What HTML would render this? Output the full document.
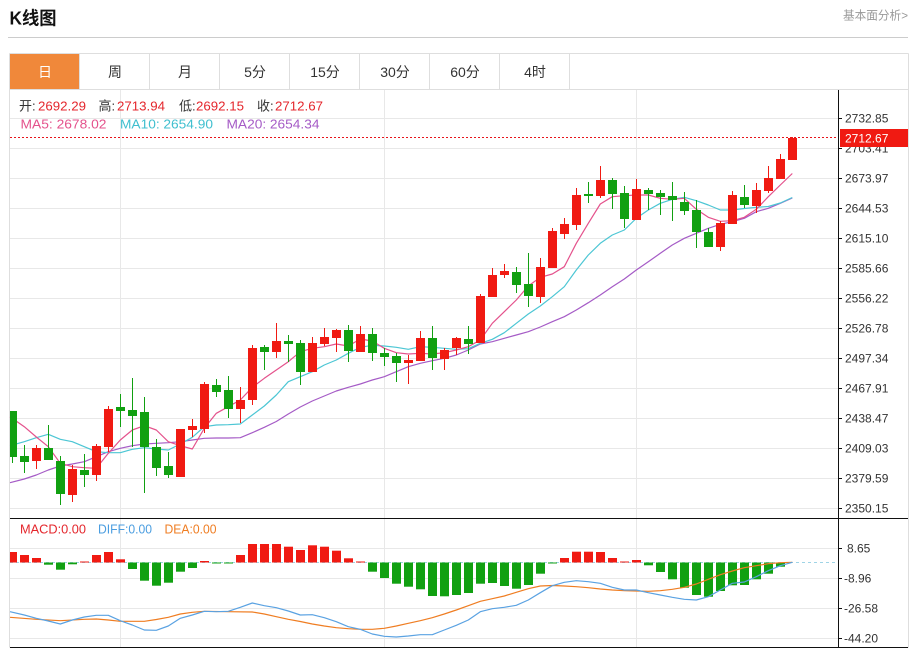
<!DOCTYPE html>
<html><head><meta charset="utf-8"><style>
html,body{margin:0;padding:0;background:#fff;}
body{width:912px;height:651px;overflow:hidden;position:relative;}
svg{position:absolute;left:0;top:0;}
text{font-family:"Liberation Sans","Noto Sans CJK SC",sans-serif;}
</style></head><body>
<svg width="912" height="651" viewBox="0 0 912 651" xmlns="http://www.w3.org/2000/svg">
<rect width="912" height="651" fill="#fff"/>
<!-- header -->
<text x="9.5" y="24.5" font-size="18" font-weight="bold" fill="#111" textLength="47" lengthAdjust="spacingAndGlyphs">K线图</text>
<text x="843" y="19.5" font-size="12" fill="#999" textLength="65" lengthAdjust="spacingAndGlyphs">基本面分析&gt;</text>
<line x1="8" y1="37.5" x2="908" y2="37.5" stroke="#ccc" stroke-width="1"/>
<!-- tabs -->
<rect x="10" y="54" width="69.5" height="35" fill="#f0883a"/>
<g stroke="#dedede" stroke-width="1" fill="none">
<path d="M9.5 53.5H908.5M9.5 89.5H908.5M9.5 53.5V647.5M908.5 53.5V647.5"/>
<path d="M79.5 53.5V89.5M149.5 53.5V89.5M219.5 53.5V89.5M289.5 53.5V89.5M359.5 53.5V89.5M429.5 53.5V89.5M499.5 53.5V89.5M569.5 53.5V89.5"/>
</g>
<g font-size="14" text-anchor="middle" fill="#333">
<text x="45" y="77" fill="#fff">日</text>
<text x="115" y="77">周</text>
<text x="185" y="77">月</text>
<text x="255" y="77">5分</text>
<text x="325" y="77">15分</text>
<text x="395" y="77">30分</text>
<text x="465" y="77">60分</text>
<text x="535" y="77">4时</text>
</g>
<!-- grid -->
<g stroke="#e8e8e8" stroke-width="1">
<path d="M10 118.5H838M10 148.5H838M10 178.5H838M10 208.5H838M10 238.5H838M10 268.5H838M10 298.5H838M10 328.5H838M10 358.5H838M10 388.5H838M10 418.5H838M10 448.5H838M10 478.5H838M10 508.5H838"/>
<path d="M10 548.5H838M10 578.5H838M10 608.5H838M10 638.5H838"/>
<path d="M120.5 90V647M384.5 90V647M636.5 90V647"/>
</g>
<!-- axis -->
<g stroke="#111" stroke-width="1">
<path d="M838.5 90V648"/>
<path d="M10 518.5H908M10 647.5H908"/>
<path d="M838 118.5H842M838 148.5H842M838 178.5H842M838 208.5H842M838 238.5H842M838 268.5H842M838 298.5H842M838 328.5H842M838 358.5H842M838 388.5H842M838 418.5H842M838 448.5H842M838 478.5H842M838 508.5H842"/>
<path d="M838 548.5H842M838 578.5H842M838 608.5H842M838 638.5H842"/>
</g>
<g font-size="12" fill="#333">
<text x="845" y="122.5">2732.85</text>
<text x="845" y="152.5">2703.41</text>
<text x="845" y="182.5">2673.97</text>
<text x="845" y="212.5">2644.53</text>
<text x="845" y="242.5">2615.10</text>
<text x="845" y="272.5">2585.66</text>
<text x="845" y="302.5">2556.22</text>
<text x="845" y="332.5">2526.78</text>
<text x="845" y="362.5">2497.34</text>
<text x="845" y="392.5">2467.91</text>
<text x="845" y="422.5">2438.47</text>
<text x="845" y="452.5">2409.03</text>
<text x="845" y="482.5">2379.59</text>
<text x="845" y="512.5">2350.15</text>
<text x="847" y="552.5">8.65</text>
<text x="844" y="582.5">-8.96</text>
<text x="844" y="612.5">-26.58</text>
<text x="844" y="642.5">-44.20</text>
</g>
<!-- current price -->
<line x1="10" y1="137.5" x2="838" y2="137.5" stroke="#e8141a" stroke-width="1" stroke-dasharray="2,2"/>
<rect x="840" y="129" width="68" height="18" fill="#f01a12"/>
<text x="845" y="142.5" font-size="12" fill="#fff">2712.67</text>
<!-- legend -->
<g font-size="13">
<text x="19" y="110.5" fill="#333">开:</text>
<text x="38" y="110.5" fill="#e4262c" textLength="48" lengthAdjust="spacingAndGlyphs">2692.29</text>
<text x="98.5" y="110.5" fill="#333">高:</text>
<text x="117" y="110.5" fill="#e4262c" textLength="48" lengthAdjust="spacingAndGlyphs">2713.94</text>
<text x="179" y="110.5" fill="#333">低:</text>
<text x="196" y="110.5" fill="#e4262c" textLength="48" lengthAdjust="spacingAndGlyphs">2692.15</text>
<text x="257" y="110.5" fill="#333">收:</text>
<text x="275" y="110.5" fill="#e4262c" textLength="48" lengthAdjust="spacingAndGlyphs">2712.67</text>
<text x="20.5" y="128.5" fill="#e4528c" textLength="86" lengthAdjust="spacingAndGlyphs">MA5: 2678.02</text>
<text x="120" y="128.5" fill="#3fbfcf" textLength="93" lengthAdjust="spacingAndGlyphs">MA10: 2654.90</text>
<text x="226.5" y="128.5" fill="#a55bc6" textLength="93" lengthAdjust="spacingAndGlyphs">MA20: 2654.34</text>
</g>
<g font-size="12.5">
<text x="20" y="533.5" fill="#e4262c" textLength="66" lengthAdjust="spacingAndGlyphs">MACD:0.00</text>
<text x="98" y="533.5" fill="#4a9de0" textLength="54" lengthAdjust="spacingAndGlyphs">DIFF:0.00</text>
<text x="164.5" y="533.5" fill="#ef7d22" textLength="52" lengthAdjust="spacingAndGlyphs">DEA:0.00</text>
</g>
<!-- MA lines -->
<g fill="none" stroke-width="1.2" stroke-linejoin="round">
<polyline stroke="#a55bc6" points="10,482.7 24.3,479 36.3,475 48.3,470 60.3,466 72.3,464 84.3,461.7 96.3,456.7 108.3,451.7 120.3,448.3 132.3,445.7 144.3,444 156.3,443.3 168.3,442.7 180.3,441.7 192.3,440 204.3,438.3 216.3,438 228.3,438 240.3,437.7 252.3,432.7 264.3,427.3 276.3,421.5 288.3,414 300.3,407 312.3,401 324.3,396 336.3,391 348.3,387.3 360.3,384 372.3,380 384.3,376.7 396.3,371.7 408.3,366.7 420.3,363.3 432.3,360.7 444.3,358.3 456.3,355 468.3,350 480.3,344 492.3,341.7 504.3,338.3 516.3,335 528.3,331.7 540.3,327 552.3,321.7 564.3,316.7 576.3,310 588.3,302.7 600.3,295 612.3,286.7 624.3,279 636.3,270 648.3,261.7 660.3,253.3 672.3,245 684.3,238.3 696.3,233.3 708.3,228.3 720.3,224.3 732.3,221.7 744.3,218.3 756.3,211.7 768.3,208.3 780.3,203.3 792.3,198"/>
<polyline stroke="#4cc6d4" points="10,445.7 24.3,441.7 36.3,437.7 48.3,434.3 60.3,439.3 72.3,441.7 84.3,446.7 96.3,451.7 108.3,452.7 120.3,452.7 132.3,449.3 144.3,447.7 156.3,449 168.3,450 180.3,444 192.3,437.3 204.3,426.7 216.3,425 228.3,424.7 240.3,424 252.3,415 264.3,406 276.3,395 288.3,381.7 300.3,376.7 312.3,371.7 324.3,365 336.3,360 348.3,353.3 360.3,347.3 372.3,345.3 384.3,346 396.3,347.3 408.3,349.3 420.3,346.7 432.3,347.3 444.3,348.3 456.3,349.3 468.3,348.7 480.3,343.3 492.3,339.3 504.3,332.7 516.3,323.3 528.3,314 540.3,306 552.3,296.7 564.3,286.7 576.3,270 588.3,255 600.3,243.3 612.3,235 624.3,230 636.3,218.3 648.3,210 660.3,203.3 672.3,199.3 684.3,197.3 696.3,200.7 708.3,205 720.3,210 732.3,210 744.3,208.5 756.3,207.3 768.3,206.5 780.3,203 792.3,197.5"/>
<polyline stroke="#e4528c" points="10,416.7 24.3,426.7 36.3,437 48.3,446.7 60.3,463.3 72.3,466.7 84.3,467.7 96.3,468.3 108.3,453.3 120.3,440 132.3,430 144.3,425.7 156.3,430 168.3,441.7 180.3,445.7 192.3,449 204.3,428.3 216.3,413.3 228.3,406.7 240.3,400 252.3,387.3 264.3,378.3 276.3,370 288.3,361.7 300.3,351.7 312.3,348.3 324.3,346.7 336.3,344 348.3,346 360.3,339 372.3,341 384.3,348.3 396.3,352.7 408.3,354 420.3,353.3 432.3,354 444.3,352.7 456.3,350 468.3,346.7 480.3,340 492.3,323.3 504.3,311.7 516.3,300 528.3,286 540.3,277.3 552.3,274 564.3,266.7 576.3,243.3 588.3,223.3 600.3,204 612.3,196.7 624.3,195.7 636.3,195 648.3,195 660.3,198.3 672.3,199.3 684.3,198.3 696.3,209.3 708.3,217.3 720.3,221.3 732.3,220.7 744.3,217.3 756.3,209.3 768.3,196.7 780.3,185 792.3,173.5"/>
</g>
<!-- red candles -->
<g fill="#f01a12" stroke="#f01a12">
<path stroke-width="1" fill="none" d="M36.5 445V469M72.5 465V502M96.5 444V481M108.5 406V452M180.5 429V477M192.5 419V437M204.5 382V433M240.5 387V423M252.5 345V405M276.5 323V358M312.5 337V372M324.5 328V346M336.5 329V352M360.5 326V352M408.5 355V384M420.5 331V361M444.5 348V370M456.5 337V355M480.5 294V343M492.5 268V297M504.5 264V278M540.5 258V303M552.5 228V268M564.5 218V239M576.5 188V230M600.5 166V198M636.5 179V220M720.5 221V251M732.5 191V224M756.5 183V213M768.5 166V193M780.5 154V179M792.5 137V160"/>
<g stroke="none">
<rect x="32" y="448" width="9" height="13"/>
<rect x="68" y="469" width="9" height="26"/>
<rect x="92" y="446" width="9" height="29"/>
<rect x="104" y="409" width="9" height="38"/>
<rect x="176" y="429" width="9" height="48"/>
<rect x="188" y="426" width="9" height="4"/>
<rect x="200" y="384" width="9" height="45"/>
<rect x="236" y="400" width="9" height="9"/>
<rect x="248" y="348" width="9" height="52"/>
<rect x="272" y="341" width="9" height="11"/>
<rect x="308" y="343" width="9" height="29"/>
<rect x="320" y="337" width="9" height="7"/>
<rect x="332" y="330" width="9" height="8"/>
<rect x="356" y="334" width="9" height="18"/>
<rect x="404" y="360" width="9" height="3"/>
<rect x="416" y="338" width="9" height="23"/>
<rect x="440" y="350" width="9" height="9"/>
<rect x="452" y="338" width="9" height="10"/>
<rect x="476" y="296" width="9" height="47"/>
<rect x="488" y="275" width="9" height="22"/>
<rect x="500" y="271" width="9" height="4"/>
<rect x="536" y="267" width="9" height="30"/>
<rect x="548" y="231" width="9" height="37"/>
<rect x="560" y="224" width="9" height="10"/>
<rect x="572" y="195" width="9" height="30"/>
<rect x="596" y="180" width="9" height="16"/>
<rect x="632" y="189" width="9" height="31"/>
<rect x="716" y="223" width="9" height="24"/>
<rect x="728" y="195" width="9" height="29"/>
<rect x="752" y="190" width="9" height="16"/>
<rect x="764" y="178" width="9" height="13"/>
<rect x="776" y="159" width="9" height="20"/>
<rect x="788" y="138" width="9" height="22"/>
</g>
</g>
<!-- green candles -->
<g fill="#11a011" stroke="#11a011">
<path stroke-width="1" fill="none" d="M12.5 411V463M24.5 445V473M48.5 425V460M60.5 456V505M84.5 454V487M120.5 394V427M132.5 378V447M144.5 397V493M156.5 439V476M168.5 452V478M216.5 379V397M228.5 376V418M264.5 345V370M288.5 335V362M300.5 340V385M348.5 325V362M372.5 328V361M384.5 348V366M396.5 353V382M432.5 326V370M468.5 326V354M516.5 267V293M528.5 253V307M588.5 182V203M612.5 178V209M624.5 186V228M648.5 188V210M660.5 190V215M672.5 182V221M684.5 192V215M696.5 200V248M708.5 228V247M744.5 185V208"/>
<g stroke="none">
<rect x="10" y="411" width="7" height="46"/>
<rect x="20" y="456" width="9" height="6"/>
<rect x="44" y="448" width="9" height="12"/>
<rect x="56" y="461" width="9" height="33"/>
<rect x="80" y="470" width="9" height="5"/>
<rect x="116" y="407" width="9" height="4"/>
<rect x="128" y="410" width="9" height="6"/>
<rect x="140" y="412" width="9" height="35"/>
<rect x="152" y="447" width="9" height="21"/>
<rect x="164" y="466" width="9" height="9"/>
<rect x="212" y="385" width="9" height="7"/>
<rect x="224" y="390" width="9" height="19"/>
<rect x="260" y="347" width="9" height="5"/>
<rect x="284" y="341" width="9" height="3"/>
<rect x="296" y="343" width="9" height="29"/>
<rect x="344" y="330" width="9" height="21"/>
<rect x="368" y="334" width="9" height="19"/>
<rect x="380" y="353" width="9" height="4"/>
<rect x="392" y="356" width="9" height="7"/>
<rect x="428" y="338" width="9" height="20"/>
<rect x="464" y="339" width="9" height="5"/>
<rect x="512" y="272" width="9" height="13"/>
<rect x="524" y="284" width="9" height="12"/>
<rect x="584" y="194" width="9" height="2"/>
<rect x="608" y="180" width="9" height="14"/>
<rect x="620" y="193" width="9" height="26"/>
<rect x="644" y="190" width="9" height="4"/>
<rect x="656" y="193" width="9" height="4"/>
<rect x="668" y="196" width="9" height="4"/>
<rect x="680" y="202" width="9" height="9"/>
<rect x="692" y="210" width="9" height="22"/>
<rect x="704" y="232" width="9" height="15"/>
<rect x="740" y="197" width="9" height="8"/>
</g>
</g>
<!-- MACD zero line -->
<line x1="10" y1="562.5" x2="838" y2="562.5" stroke="#9fd4e6" stroke-width="1" stroke-dasharray="3,3"/>
<!-- MACD bars red -->
<g fill="#f01a12">
<rect x="10" y="552" width="7" height="10.5"/>
<rect x="20" y="555" width="9" height="7.5"/>
<rect x="32" y="558" width="9" height="4.5"/>
<rect x="80" y="561.5" width="9" height="1"/>
<rect x="92" y="555" width="9" height="7.5"/>
<rect x="104" y="552" width="9" height="10.5"/>
<rect x="116" y="559.3" width="9" height="3.2"/>
<rect x="200" y="561" width="9" height="1.5"/>
<rect x="236" y="555" width="9" height="7.5"/>
<rect x="248" y="544" width="9" height="18.5"/>
<rect x="260" y="544" width="9" height="18.5"/>
<rect x="272" y="544" width="9" height="18.5"/>
<rect x="284" y="546.7" width="9" height="15.8"/>
<rect x="296" y="550" width="9" height="12.5"/>
<rect x="308" y="545.3" width="9" height="17.2"/>
<rect x="320" y="546.7" width="9" height="15.8"/>
<rect x="332" y="550.7" width="9" height="11.8"/>
<rect x="344" y="558.3" width="9" height="4.2"/>
<rect x="356" y="561.5" width="9" height="1"/>
<rect x="560" y="558" width="9" height="4.5"/>
<rect x="572" y="551.7" width="9" height="10.8"/>
<rect x="584" y="551.7" width="9" height="10.8"/>
<rect x="596" y="552" width="9" height="10.5"/>
<rect x="608" y="558" width="9" height="4.5"/>
<rect x="620" y="561.5" width="9" height="1"/>
<rect x="632" y="560" width="9" height="2.5"/>
</g>
<!-- MACD bars green -->
<g fill="#11a011">
<rect x="44" y="562.5" width="9" height="2.2"/>
<rect x="56" y="562.5" width="9" height="7.2"/>
<rect x="68" y="562.5" width="9" height="1.8"/>
<rect x="128" y="562.5" width="9" height="6.5"/>
<rect x="140" y="562.5" width="9" height="18.2"/>
<rect x="152" y="562.5" width="9" height="23.2"/>
<rect x="164" y="562.5" width="9" height="20.2"/>
<rect x="176" y="562.5" width="9" height="9.2"/>
<rect x="188" y="562.5" width="9" height="5.5"/>
<rect x="212" y="562.5" width="9" height="1"/>
<rect x="224" y="562.5" width="9" height="1"/>
<rect x="368" y="562.5" width="9" height="9.2"/>
<rect x="380" y="562.5" width="9" height="15.5"/>
<rect x="392" y="562.5" width="9" height="21.2"/>
<rect x="404" y="562.5" width="9" height="24.2"/>
<rect x="416" y="562.5" width="9" height="26.8"/>
<rect x="428" y="562.5" width="9" height="33.5"/>
<rect x="440" y="562.5" width="9" height="33.8"/>
<rect x="452" y="562.5" width="9" height="32.5"/>
<rect x="464" y="562.5" width="9" height="30.5"/>
<rect x="476" y="562.5" width="9" height="21.2"/>
<rect x="488" y="562.5" width="9" height="20.5"/>
<rect x="500" y="562.5" width="9" height="23.5"/>
<rect x="512" y="562.5" width="9" height="26.2"/>
<rect x="524" y="562.5" width="9" height="22.5"/>
<rect x="536" y="562.5" width="9" height="11.2"/>
<rect x="548" y="562.5" width="9" height="1"/>
<rect x="644" y="562.5" width="9" height="2.8"/>
<rect x="656" y="562.5" width="9" height="9.5"/>
<rect x="668" y="562.5" width="9" height="16.8"/>
<rect x="680" y="562.5" width="9" height="25.2"/>
<rect x="692" y="562.5" width="9" height="32.5"/>
<rect x="704" y="562.5" width="9" height="34.2"/>
<rect x="716" y="562.5" width="9" height="28.5"/>
<rect x="728" y="562.5" width="9" height="22.8"/>
<rect x="740" y="562.5" width="9" height="22.5"/>
<rect x="752" y="562.5" width="9" height="16.8"/>
<rect x="764" y="562.5" width="9" height="11.2"/>
<rect x="776" y="562.5" width="9" height="4.2"/>
</g>
<!-- DIFF / DEA -->
<g fill="none" stroke-width="1.2" stroke-linejoin="round">
<polyline stroke="#ef7d22" points="10,617.3 36.3,619.3 60.3,620.7 84.3,619.3 96.3,619 108.3,620 120.3,621.3 144.3,621.3 156.3,619.5 168.3,617.3 180.3,614 192.3,612.3 204.3,611.3 228.3,611.7 252.3,612 264.3,614 276.3,616.7 288.3,619.3 300.3,621.5 312.3,624 324.3,626 336.3,627.7 348.3,628.7 360.3,629.3 372.3,629.3 384.3,628.3 396.3,626 408.3,623.3 420.3,620.7 432.3,617.7 444.3,614 456.3,610 468.3,605.7 480.3,601.3 492.3,598.7 504.3,596 516.3,592.3 528.3,588.7 540.3,586 552.3,585.5 564.3,586 576.3,586.7 588.3,587.7 600.3,589 612.3,590 624.3,590.7 636.3,591 648.3,591.3 660.3,590.7 672.3,589.3 684.3,587.3 696.3,584 708.3,579.3 720.3,574.7 732.3,571 744.3,567.7 756.3,565.7 768.3,563.7 780.3,562.7 792.3,562.3"/>
<polyline stroke="#5aa2e2" points="10,611.7 24.3,615 36.3,618.3 48.3,621 60.3,624 72.3,620 84.3,617 96.3,615.3 108.3,615.3 120.3,620.7 132.3,625 144.3,630 156.3,630.3 168.3,626 180.3,618.3 192.3,615 204.3,611.3 216.3,611.7 228.3,611.3 240.3,607.3 252.3,603 264.3,605.7 276.3,607.7 288.3,611 300.3,615 312.3,614.7 324.3,617.7 336.3,621.7 348.3,626.7 360.3,629.3 372.3,634 384.3,636.3 396.3,637 408.3,636 420.3,634.7 432.3,634.7 444.3,630 456.3,625.3 468.3,620 480.3,611.7 492.3,608.7 504.3,607.3 516.3,605.3 528.3,600 540.3,592.7 552.3,585.7 564.3,582.3 576.3,580.7 588.3,581.7 600.3,583.3 612.3,587.3 624.3,590 636.3,590 648.3,592.7 660.3,595 672.3,597.3 684.3,599.3 696.3,600 708.3,596.7 720.3,590 732.3,583.3 744.3,582 756.3,576.7 768.3,570.7 780.3,565.7 792.3,562.3"/>
</g>
</svg>
</body></html>
